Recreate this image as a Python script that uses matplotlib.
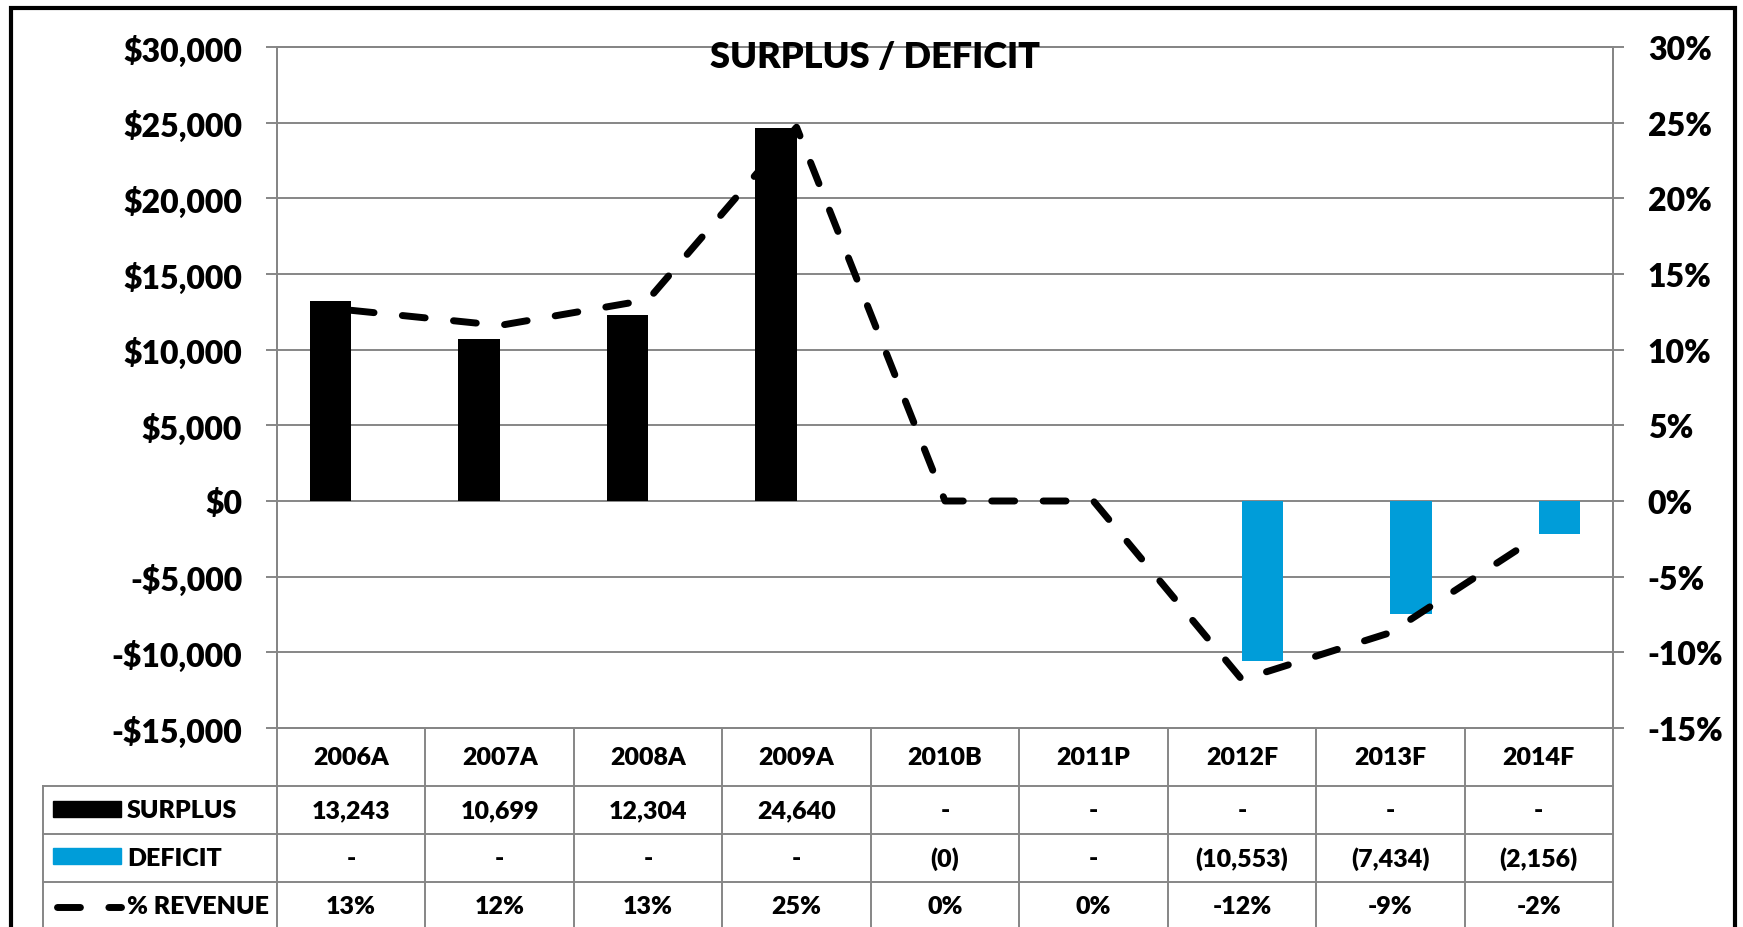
import matplotlib
matplotlib.use('Agg')
import matplotlib.pyplot as plt
from matplotlib.patches import Rectangle
from matplotlib.lines import Line2D
from matplotlib.ticker import FuncFormatter, MultipleLocator

plt.rcParams['font.family'] = ['Lato', 'DejaVu Sans']
plt.rcParams['font.weight'] = 'bold'

years = ['2006A', '2007A', '2008A', '2009A', '2010B', '2011P', '2012F', '2013F', '2014F']
surplus = [13243, 10699, 12304, 24640, 0, 0, 0, 0, 0]
deficit = [0, 0, 0, 0, -0.3, 0, -10553, -7434, -2156]
pct_revenue = [12.6, 11.6, 13.3, 24.7, 0, 0, -11.8, -8.7, -2.3]

W, H = 1743, 928
GRAY = '#868686'
BLUE = '#009DD9'

fig = plt.figure(figsize=(W / 100, H / 100), dpi=100)
fig.patch.set_facecolor('white')

# plot area in pixels: x 277..1613, y 48..729
ax = fig.add_axes([277 / W, 1 - 729 / H, 1336 / W, 681 / H])
ax2 = ax.twinx()

x = list(range(len(years)))
bw = 0.28
ax.bar([i - bw / 2 for i in x], surplus, width=bw, color='black', zorder=3)
ax.bar([i + bw / 2 for i in x], deficit, width=bw, color=BLUE, zorder=3)

ax2.plot(x, pct_revenue, color='black', lw=5, dashes=(3.3, 4.1),
         dash_capstyle='round', solid_capstyle='round', zorder=4)

ax.set_xlim(-0.5, len(years) - 0.5)
ax.set_ylim(-15000, 30000)
ax2.set_ylim(-15, 30)
ax.yaxis.set_major_locator(MultipleLocator(5000))
ax2.yaxis.set_major_locator(MultipleLocator(5))


def dollars(v, pos):
    if v < 0:
        return '-${:,.0f}'.format(-v)
    return '${:,.0f}'.format(v)


ax.yaxis.set_major_formatter(FuncFormatter(dollars))
ax2.yaxis.set_major_formatter(FuncFormatter(lambda v, p: '{:.0f}%'.format(v)))
ax.set_xticks([])
ax.grid(axis='y', color=GRAY, lw=1.4, zorder=0)
ax.set_axisbelow(True)

for a in (ax, ax2):
    for s in a.spines.values():
        s.set_color(GRAY)
        s.set_linewidth(1.4)
ax.tick_params(axis='y', length=8, width=1.4, color=GRAY, pad=17, labelsize=23)
ax2.tick_params(axis='y', length=8, width=1.4, color=GRAY, pad=17, labelsize=23)
for lab in ax.get_yticklabels() + ax2.get_yticklabels():
    lab.set_fontweight('heavy')

fig.text(875 / W, 1 - 58 / H, 'SURPLUS / DEFICIT', ha='center', va='center',
         fontsize=26, fontweight='heavy')

# data table under the chart
tr = ax.get_xaxis_transform()
px_h = 681.0
col_w = 1336.0 / len(years)


def ax_y(py):
    return (729 - py) / px_h


def dx(px):
    return (px - 277) / col_w - 0.5


row_tops = [729, 787, 835, 883, 931]
left_x = dx(43)
right_x = len(years) - 0.5

for yy in row_tops[1:]:
    ax.plot([left_x, right_x], [ax_y(yy)] * 2, color=GRAY, lw=1.4,
            transform=tr, clip_on=False)
for k in range(len(years) + 1):
    ax.plot([k - 0.5] * 2, [0, ax_y(940)], color=GRAY, lw=1.4,
            transform=tr, clip_on=False)
ax.plot([left_x] * 2, [ax_y(787), ax_y(940)], color=GRAY, lw=1.4,
        transform=tr, clip_on=False)

surplus_txt = ['-' if v == 0 else '{:,.0f}'.format(v) for v in surplus]
deficit_txt = ['-' if v == 0 else '({:,.0f})'.format(abs(v)) for v in deficit]
pct_txt = ['{:.0f}%'.format(round(p)) for p in pct_revenue]

fs = 18
for i in x:
    ax.text(i, ax_y(758), years[i], transform=tr, ha='center', va='center',
            fontsize=fs, fontweight='heavy')
    for txt, yc in ((surplus_txt[i], 811), (deficit_txt[i], 859), (pct_txt[i], 907)):
        ax.text(i, ax_y(yc), txt, transform=tr, ha='center', va='center',
                fontsize=fs, fontweight='heavy')

labels = ['SURPLUS', 'DEFICIT', '% REVENUE']
for lab, yc in zip(labels, (811, 859, 907)):
    ax.text(dx(127), ax_y(yc), lab, transform=tr, ha='left', va='center',
            fontsize=fs, fontweight='heavy')

ax.add_patch(Rectangle((dx(53), ax_y(818)), dx(121) - dx(53), ax_y(802) - ax_y(818),
                       transform=tr, color='black', clip_on=False))
ax.add_patch(Rectangle((dx(53), ax_y(865)), dx(121) - dx(53), ax_y(849) - ax_y(865),
                       transform=tr, color=BLUE, clip_on=False))
ax.add_line(Line2D([dx(56.5), dx(121)], [ax_y(908)] * 2, transform=tr, color='black',
                   lw=5, dashes=(3.3, 4.1), dash_capstyle='round', clip_on=False))

# outer frame
fig.patches.append(Rectangle((10.5 / W, -0.1), (1735 - 10.5) / W, 1 - 9 / H + 0.1,
                             transform=fig.transFigure, fill=False,
                             edgecolor='black', lw=3))

fig.savefig('out.png', dpi=100)
